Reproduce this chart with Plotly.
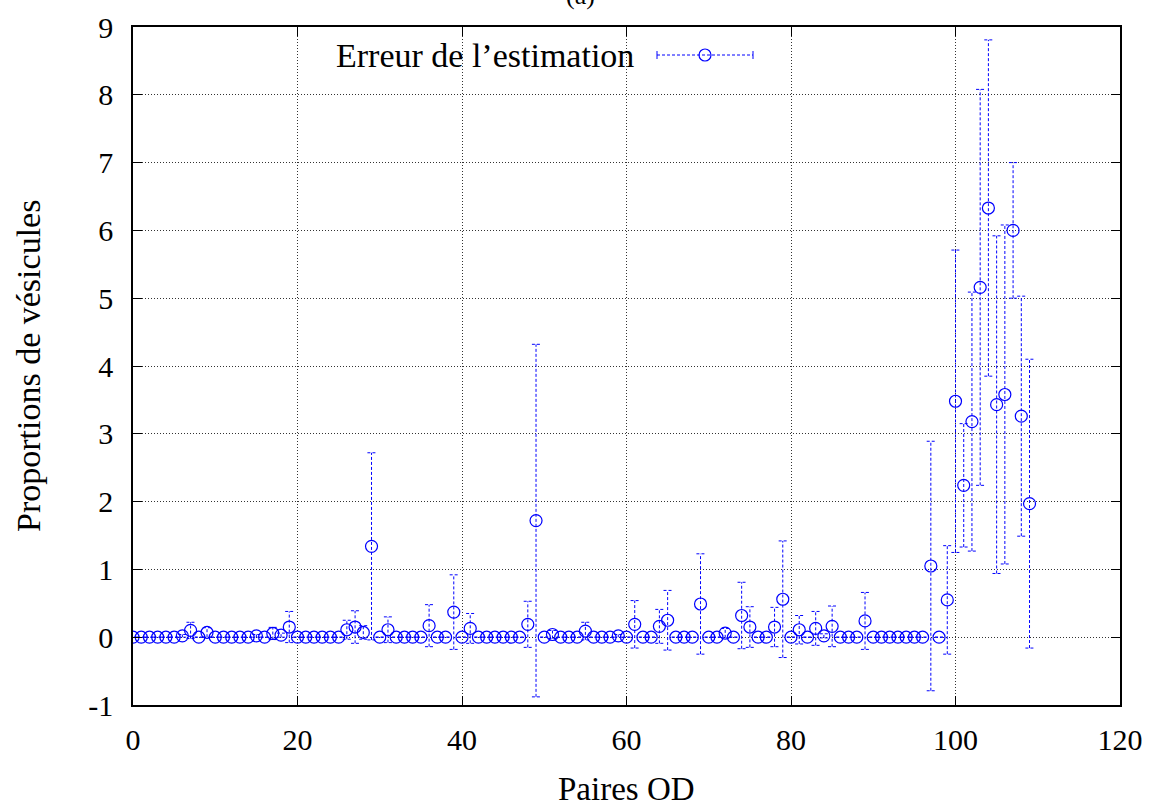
import plotly.graph_objects as go

# OD pair index and estimation error (mean, half-width of the error bar)
paires = list(range(110))
erreur = [
    0, 0, 0, 0, 0, 0, 0.02, 0.10, 0, 0.07,
    0, 0, 0, 0, 0, 0.02, 0, 0.055, 0.03, 0.15,
    0, 0, 0, 0, 0, 0, 0.11, 0.15, 0.07, 1.34,
    0, 0.11, 0, 0, 0, 0, 0.17, 0, 0, 0.37,
    0, 0.13, 0, 0, 0, 0, 0, 0, 0.19, 1.72,
    0, 0.04, 0, 0, 0, 0.09, 0, 0, 0, 0.02,
    0, 0.19, 0, 0, 0.16, 0.25, 0, 0, 0, 0.49,
    0, 0, 0.06, 0, 0.32, 0.15, 0, 0, 0.15, 0.56,
    0, 0.11, 0, 0.13, 0.02, 0.16, 0, 0, 0, 0.24,
    0, 0, 0, 0, 0, 0, 0, 1.05, 0, 0.55,
    3.48, 2.24, 3.18, 5.16, 6.33, 3.43, 3.58, 6.00, 3.26, 1.97,
]
ecart = [
    0, 0, 0, 0, 0, 0, 0.02, 0.12, 0, 0.07,
    0, 0, 0, 0, 0, 0.02, 0, 0.09, 0.03, 0.23,
    0, 0, 0, 0, 0, 0, 0.14, 0.24, 0.10, 1.38,
    0, 0.19, 0, 0, 0, 0, 0.31, 0, 0, 0.55,
    0, 0.22, 0, 0, 0, 0, 0, 0, 0.34, 2.60,
    0, 0.06, 0, 0, 0, 0.13, 0, 0, 0, 0.02,
    0, 0.35, 0, 0, 0.25, 0.44, 0, 0, 0, 0.74,
    0, 0, 0.07, 0, 0.49, 0.30, 0, 0, 0.29, 0.86,
    0, 0.21, 0, 0.25, 0.03, 0.30, 0, 0, 0, 0.42,
    0, 0, 0, 0, 0, 0, 0, 1.84, 0, 0.80,
    2.23, 0.91, 1.91, 2.92, 2.48, 2.49, 2.50, 1.00, 1.77, 2.13,
]

x_ticks = [0, 20, 40, 60, 80, 100, 120]
y_ticks = [-1, 0, 1, 2, 3, 4, 5, 6, 7, 8, 9]
y_tick_text = ["-1", "0", "1", "2", "3", "4", "5", "6", "7", "8", "9"]

BLUE = "#0000ff"
FONT = "Liberation Serif"
DASH = "3px,2px"
CAP = 0.5  # half-width of error bar caps, in x units

# build the dashed error bars (stem + caps) as one broken line
ex, ey = [], []
for xi, yi, ei in zip(paires, erreur, ecart):
    lo, hi = yi - ei, yi + ei
    ex += [xi, xi, None]
    ey += [lo, hi, None]
    ex += [xi - CAP, xi + CAP, None, xi - CAP, xi + CAP, None]
    ey += [hi, hi, None, lo, lo, None]

fig = go.Figure()
fig.add_trace(go.Scatter(
    x=ex, y=ey, mode="lines",
    line=dict(color=BLUE, width=1, dash=DASH),
    hoverinfo="skip", showlegend=False,
))
fig.add_trace(go.Scatter(
    x=paires, y=erreur, mode="markers",
    marker=dict(symbol="circle-open", size=12, color=BLUE, line=dict(width=1.2, color=BLUE)),
    showlegend=False,
))

axis_common = dict(
    showline=True, linecolor="black", linewidth=1.6, mirror="allticks",
    ticks="inside", ticklen=9, tickwidth=1.4, tickcolor="black",
    showgrid=True, gridcolor="#333333", gridwidth=1, griddash="1px,2px",
    zeroline=False,
    tickfont=dict(family=FONT, size=30, color="black"),
)

fig.update_xaxes(range=[0, 120], tickvals=x_ticks, ticklabelstandoff=7, **axis_common)
fig.update_yaxes(range=[-1, 9], tickvals=y_ticks, ticktext=y_tick_text,
                 ticklabelstandoff=12, **axis_common)

L, R, T, B = 133, 30, 27, 105
W, H = 1150, 810
pw, ph = W - L - R, H - T - B


def px_x(p):
    return (p - L) / pw


def px_y(p):
    return (H - B - p) / ph


annotations = [
    dict(text="Paires OD", x=0.5, y=px_y(789), xref="paper", yref="paper",
         showarrow=False, xanchor="center", yanchor="middle",
         font=dict(family=FONT, size=33, color="black")),
    dict(text="Proportions de vésicules", x=px_x(28), y=px_y(366), xref="paper", yref="paper",
         showarrow=False, xanchor="center", yanchor="middle", textangle=-90,
         font=dict(family=FONT, size=34, color="black")),
    dict(text="(a)", x=px_x(580), y=px_y(-4), xref="paper", yref="paper",
         showarrow=False, xanchor="center", yanchor="middle",
         font=dict(family=FONT, size=26, color="black")),
    dict(text="Erreur de l’estimation", x=px_x(636), y=px_y(55), xref="paper", yref="paper",
         showarrow=False, xanchor="right", yanchor="middle",
         font=dict(family=FONT, size=34, color="black")),
]

# legend sample: dashed line with end caps and an open circle
lx0, lx1, lxc, ly = px_x(657), px_x(753), px_x(705), px_y(55)
cap_h = 4 / ph
shapes = [
    dict(type="line", xref="paper", yref="paper", x0=lx0, x1=lx1, y0=ly, y1=ly,
         line=dict(color=BLUE, width=1, dash=DASH)),
    dict(type="line", xref="paper", yref="paper", x0=lx0, x1=lx0, y0=ly - cap_h, y1=ly + cap_h,
         line=dict(color=BLUE, width=1)),
    dict(type="line", xref="paper", yref="paper", x0=lx1, x1=lx1, y0=ly - cap_h, y1=ly + cap_h,
         line=dict(color=BLUE, width=1)),
    dict(type="circle", xref="paper", yref="paper", xsizemode="pixel", ysizemode="pixel",
         xanchor=lxc, yanchor=ly, x0=-6, x1=6, y0=-6, y1=6,
         line=dict(color=BLUE, width=1.2)),
]

fig.update_layout(
    width=W, height=H,
    margin=dict(l=L, r=R, t=T, b=B, autoexpand=False),
    paper_bgcolor="white", plot_bgcolor="white",
    annotations=annotations, shapes=shapes,
    showlegend=False,
)

fig.write_html("out.html")
